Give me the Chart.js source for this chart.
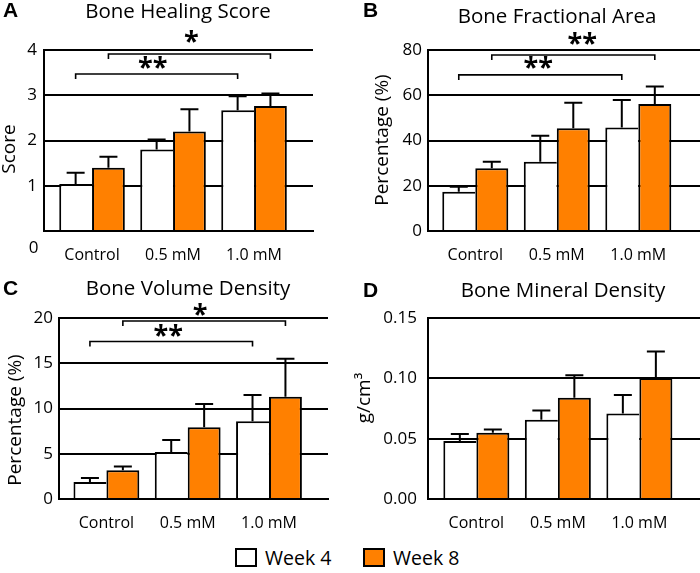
<!DOCTYPE html>
<html>
<head>
<meta charset="utf-8">
<script src="https://cdn.jsdelivr.net/npm/chart.js@4.4.0/dist/chart.umd.min.js"></script>
<style>
  body { margin: 0; background: #fff; }
  #wrap { position: relative; width: 700px; height: 573px; overflow: hidden; font-family: "Open Sans", sans-serif; }
  canvas { position: absolute; }
  .box { position: absolute; top: 548px; width: 18px; height: 15px; border: 2px solid #000; }
  .lab { position: absolute; top: 546px; font-size: 19.5px; line-height: 24px; color: #000; }
</style>
</head>
<body>
<div id="wrap">
  <canvas id="cA" width="340" height="265" style="left:0;top:0"></canvas>
  <canvas id="cB" width="350" height="265" style="left:350px;top:0"></canvas>
  <canvas id="cC" width="340" height="265" style="left:0;top:270px"></canvas>
  <canvas id="cD" width="350" height="265" style="left:350px;top:270px"></canvas>
</div>
<script>
// groups and series
const groups = ['Control', '0.5 mM', '1.0 mM'];
const seriesNames = ['Week 4', 'Week 8'];
const seriesColors = ['#ffffff', '#ff8000'];

// A - healing score
const healWeek4 = [1.04, 1.80, 2.67];
const healWeek8 = [1.40, 2.20, 2.76];
const healSd4 = [0.25, 0.22, 0.31];
const healSd8 = [0.24, 0.49, 0.28];
const healTicks = [0, 1, 2, 3, 4];

// B - fractional area
const areaWeek4 = [17.4, 30.6, 45.8];
const areaWeek8 = [27.7, 45.4, 56.1];
const areaSd4 = [2.2, 11.5, 12.1];
const areaSd8 = [2.9, 11.3, 7.8];
const areaTicks = [0, 20, 40, 60, 80];

// C - volume density
const volWeek4 = [1.89, 5.19, 8.6];
const volWeek8 = [3.19, 7.93, 11.3];
const volSd4 = [0.44, 1.33, 2.9];
const volSd8 = [0.40, 2.57, 4.2];
const volTicks = [0, 5, 10, 15, 20];

// D - mineral density
const bmdWeek4 = [0.048, 0.0656, 0.0708];
const bmdWeek8 = [0.055, 0.0839, 0.1003];
const bmdSd4 = [0.0059, 0.0077, 0.0153];
const bmdSd8 = [0.0025, 0.0186, 0.0219];
const bmdTicks = [0, 0.05, 0.10, 0.15];

// significance brackets: [group, series] -> [group, series]
const healSig = [
    {from: [0, 0], to: [2, 0], y: 3.47, mark: '**', markY: 3.73, dx: -4},
    {from: [0, 1], to: [2, 1], y: 3.91, mark: '*', markY: 4.29, dx: 2}
];
const areaSig = [
    {from: [0, 0], to: [2, 0], y: 69, mark: '**', markY: 74.3, dx: -2},
    {from: [0, 1], to: [2, 1], y: 77.8, mark: '**', markY: 84.9, dx: 9}
];
const volSig = [
    {from: [0, 0], to: [2, 0], y: 17.4, mark: '**', markY: 18.6, dx: -3},
    {from: [0, 1], to: [2, 1], y: 19.67, mark: '*', markY: 20.96, dx: -4}
];

Chart.defaults.font.family = '"Open Sans", sans-serif';
Chart.defaults.color = '#000';

function extrasPlugin(cfg) {
    return {
        id: 'extras',
        afterDatasetsDraw(chart) {
            const ctx = chart.ctx, ys = chart.scales.y;
            ctx.save();
            ctx.strokeStyle = '#000';
            ctx.lineWidth = 2;
            chart.data.datasets.forEach((ds, di) => {
                chart.getDatasetMeta(di).data.forEach((bar, i) => {
                    const top = ys.getPixelForValue(ds.data[i].y + ds.sd[i]);
                    ctx.beginPath();
                    ctx.moveTo(bar.x, bar.y);
                    ctx.lineTo(bar.x, top);
                    ctx.moveTo(bar.x - 9, top);
                    ctx.lineTo(bar.x + 9, top);
                    ctx.stroke();
                });
            });
            ctx.restore();
        },
        afterDraw(chart) {
            const ctx = chart.ctx, ys = chart.scales.y;
            ctx.save();
            ctx.fillStyle = '#000';
            ctx.strokeStyle = '#000';
            // brackets
            (cfg.sig || []).forEach(s => {
                const a = chart.getDatasetMeta(s.from[1]).data[s.from[0]];
                const b = chart.getDatasetMeta(s.to[1]).data[s.to[0]];
                const y = ys.getPixelForValue(s.y);
                ctx.lineWidth = 1.6;
                ctx.beginPath();
                ctx.moveTo(a.x, y + 5);
                ctx.lineTo(a.x, y);
                ctx.lineTo(b.x, y);
                ctx.lineTo(b.x, y + 5);
                ctx.stroke();
                ctx.font = 'bold 27px "Open Sans"';
                ctx.textAlign = 'center';
                ctx.textBaseline = 'alphabetic';
                const m = ctx.measureText(s.mark);
                const my = ys.getPixelForValue(s.markY);
                const off = (m.actualBoundingBoxAscent - m.actualBoundingBoxDescent) / 2;
                ctx.fillText(s.mark, (a.x + b.x) / 2 + (s.dx || 0), my + off);
            });
            // texts
            cfg.texts.forEach(t => {
                ctx.font = t.font;
                ctx.textAlign = t.align || 'center';
                if (t.rot) {
                    ctx.save();
                    ctx.translate(t.x, t.y);
                    ctx.rotate(-Math.PI / 2);
                    ctx.textBaseline = 'middle';
                    ctx.fillText(t.t, 0, 0);
                    ctx.restore();
                } else {
                    ctx.textBaseline = 'alphabetic';
                    ctx.fillText(t.t, t.x, t.y);
                }
            });
            ctx.restore();
        }
    };
}

function makePanel(id, cfg) {
    const mk = (vals, sd, k) => ({
        label: seriesNames[k],
        data: vals.map((v, i) => ({x: i, y: v})),
        sd: sd,
        backgroundColor: seriesColors[k],
        borderColor: '#000',
        borderWidth: k === 0 ? {top: 2, left: 2, right: 0, bottom: 0} : {top: 2, left: 2, right: 2, bottom: 0},
        borderSkipped: false,
        categoryPercentage: 0.81,
        barPercentage: 1
    });
    new Chart(document.getElementById(id).getContext('2d'), {
        type: 'bar',
        data: {datasets: [mk(cfg.w4, cfg.sd4, 0), mk(cfg.w8, cfg.sd8, 1)]},
        options: {
            responsive: false,
            animation: false,
            devicePixelRatio: 1,
            layout: {padding: cfg.pad},
            plugins: {legend: {display: false}, tooltip: {enabled: false}},
            scales: {
                x: {
                    type: 'linear', bounds: 'data', min: cfg.xmin, max: cfg.xmax, offset: false, z: 1,
                    grid: {display: false, offset: false},
                    border: {display: true, color: '#000', width: 2},
                    afterBuildTicks: s => { s.ticks = groups.map((g, i) => ({value: i})); },
                    afterFit: s => { s.height = cfg.xh; },
                    ticks: {callback: v => groups[v], font: {size: 16}, color: '#000', padding: 7, maxRotation: 0, autoSkip: false}
                },
                y: {
                    min: 0, max: cfg.ticks[cfg.ticks.length - 1],
                    afterBuildTicks: s => { s.ticks = cfg.ticks.map(v => ({value: v})); },
                    afterFit: s => { s.width = cfg.yw; },
                    grid: {color: '#000', lineWidth: 2, drawTicks: false},
                    border: {color: '#000', width: 2},
                    ticks: {
                        callback: v => (cfg.hideZero && v === 0) ? '' : (cfg.dec ? v.toFixed(cfg.dec) : v),
                        font: {size: 17}, color: '#000', padding: cfg.ytp
                    }
                }
            }
        },
        plugins: [extrasPlugin(cfg)]
    });
}

const titleFont = '20.5px "Open Sans"';
const axisFont = '19px "Open Sans"';
const letterFont = 'bold 21px "Liberation Sans"';

makePanel('cA', {
    w4: healWeek4, w8: healWeek8, sd4: healSd4, sd8: healSd8, ticks: healTicks, sig: healSig, hideZero: true,
    pad: {top: 50, right: 27, left: 0, bottom: 0}, yw: 44, xh: 34, ytp: 7, xmin: -0.593, xmax: 2.728,
    texts: [
        {t: 'A', x: 3, y: 17, font: letterFont, align: 'left'},
        {t: 'Bone Healing Score', x: 178, y: 18, font: titleFont},
        {t: 'Score', x: 10, y: 149, font: axisFont, rot: true},
        {t: '0', x: 33.5, y: 253, font: '17px "Open Sans"'}
    ]
});
makePanel('cB', {
    w4: areaWeek4, w8: areaWeek8, sd4: areaSd4, sd8: areaSd8, ticks: areaTicks, sig: areaSig,
    pad: {top: 50, right: 0, left: 0, bottom: 0}, yw: 78, xh: 34, ytp: 6, xmin: -0.58, xmax: 2.757,
    texts: [
        {t: 'B', x: 13, y: 17, font: letterFont, align: 'left'},
        {t: 'Bone Fractional Area', x: 207, y: 23, font: titleFont},
        {t: 'Percentage (%)', x: 33, y: 140, font: axisFont, rot: true}
    ]
});
makePanel('cC', {
    w4: volWeek4, w8: volWeek8, sd4: volSd4, sd8: volSd8, ticks: volTicks, sig: volSig,
    pad: {top: 48, right: 12, left: 0, bottom: 0}, yw: 59, xh: 36, ytp: 6, xmin: -0.583, xmax: 2.726,
    texts: [
        {t: 'C', x: 3, y: 25, font: letterFont, align: 'left'},
        {t: 'Bone Volume Density', x: 188, y: 25, font: titleFont},
        {t: 'Percentage (%)', x: 16, y: 150, font: axisFont, rot: true}
    ]
});
makePanel('cD', {
    w4: bmdWeek4, w8: bmdWeek8, sd4: bmdSd4, sd8: bmdSd8, ticks: bmdTicks, sig: [], dec: 2,
    pad: {top: 48, right: 0, left: 0, bottom: 0}, yw: 78, xh: 36, ytp: 11, xmin: -0.593, xmax: 2.744,
    texts: [
        {t: 'D', x: 13, y: 27, font: letterFont, align: 'left'},
        {t: 'Bone Mineral Density', x: 213, y: 27, font: titleFont},
        {t: 'g/cm³', x: 15, y: 128, font: axisFont, rot: true}
    ]
});

// legend
const wrap = document.getElementById('wrap');
const legendX = [235, 363];
seriesNames.forEach((name, k) => {
    const b = document.createElement('div');
    b.className = 'box';
    b.style.left = legendX[k] + 'px';
    b.style.background = seriesColors[k];
    wrap.appendChild(b);
    const l = document.createElement('div');
    l.className = 'lab';
    l.style.left = (legendX[k] + 30) + 'px';
    l.textContent = name;
    wrap.appendChild(l);
});
</script>
</body>
</html>
